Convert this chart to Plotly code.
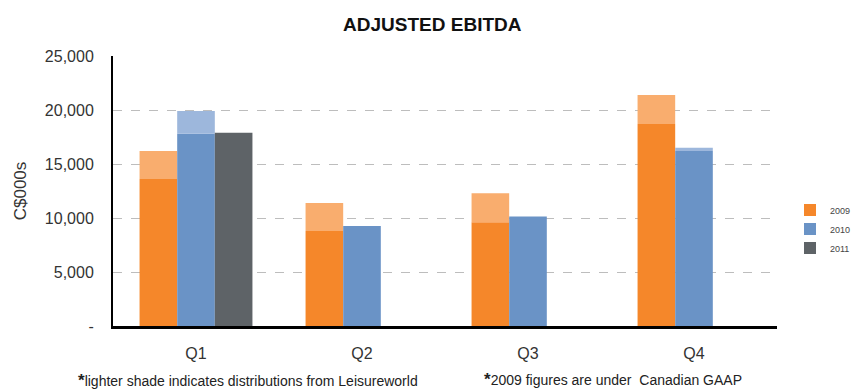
import plotly.graph_objects as go

quarters = ["Q1", "Q2", "Q3", "Q4"]
years = ["2009", "2010", "2011"]

# EBITDA excluding distributions (C$000s)
core_2009 = [13600, 8800, 9600, 18700]
core_2010 = [17800, 9260, 10150, 16200]
core_2011 = [17900, None, None, None]

# Totals including distributions from Leisureworld (lighter shade)
total_2009 = [16200, 11400, 12300, 21400]
total_2010 = [19900, None, None, 16500]

dark_colors = {"2009": "#F5872A", "2010": "#6A93C6", "2011": "#5E6367"}
light_colors = {"2009": "#F9AD6E", "2010": "#9DB7DC"}

fig = go.Figure()

def add_year(year, core, total=None):
    fig.add_trace(go.Bar(
        x=quarters, y=core, name=year, offsetgroup=year,
        marker=dict(color=dark_colors[year], line=dict(width=0)),
        legendgroup=year,
    ))
    if total is not None:
        extra = [None if (t is None or c is None) else t - c for c, t in zip(core, total)]
        fig.add_trace(go.Bar(
            x=quarters, y=extra, base=core, offsetgroup=year,
            marker=dict(color=light_colors[year], line=dict(width=0)),
            legendgroup=year, showlegend=False,
        ))

add_year("2009", core_2009, total_2009)
add_year("2010", core_2010, total_2010)
add_year("2011", core_2011)

fig.update_layout(
    width=856, height=392,
    margin=dict(l=113, r=79, t=56, b=66, autoexpand=False),
    paper_bgcolor="white", plot_bgcolor="white",
    barmode="group", bargap=0.32, bargroupgap=0,
    font=dict(family="Liberation Sans, Arial, sans-serif", color="#333333"),
    title=dict(text="<b>ADJUSTED EBITDA</b>", x=0.505, xanchor="center", y=1 - 24 / 392, yanchor="middle",
               font=dict(size=19, color="#111111")),
    showlegend=True,
    legend=dict(x=(790 - 113) / 664, xref="paper", y=(326 - 229) / 270, yanchor="middle", xanchor="left",
                font=dict(size=9, color="#444444"), tracegroupgap=0,
                bgcolor="rgba(0,0,0,0)"),
    xaxis=dict(showgrid=False, showline=True, linecolor="black", linewidth=3,
               tickfont=dict(size=16, color="#333333"), ticks="", ticklabelstandoff=11,
               range=[-0.5, 3.5]),
    yaxis=dict(range=[0, 25000], tickvals=[0, 5000, 10000, 15000, 20000, 25000],
               ticktext=["-", "5,000", "10,000", "15,000", "20,000", "25,000"],
               showgrid=True, gridcolor="#BDBDBD", griddash="dash", gridwidth=1,
               showline=True, linecolor="black", linewidth=2, zeroline=False,
               tickfont=dict(size=16, color="#333333"), ticklabelstandoff=14,
               title=dict(text="C$000s", font=dict(size=17, color="#333333"), standoff=14)),
)

note_font = dict(family="Liberation Sans Narrow, Liberation Sans, sans-serif", size=14, color="#222222")
fig.add_annotation(text="<span style='font-size:17px'><b>*</b></span>lighter shade indicates distributions from Leisureworld",
                   xref="paper", yref="paper", x=(76 - 113) / 664, y=-(380 - 326) / 270,
                   xanchor="left", yanchor="middle", showarrow=False, font=note_font)
fig.add_annotation(text="<span style='font-size:17px'><b>*</b></span>2009 figures are under  Canadian GAAP",
                   xref="paper", yref="paper", x=(482 - 113) / 664, y=-(379 - 326) / 270,
                   xanchor="left", yanchor="middle", showarrow=False, font=note_font)

fig.write_html("out.html")
